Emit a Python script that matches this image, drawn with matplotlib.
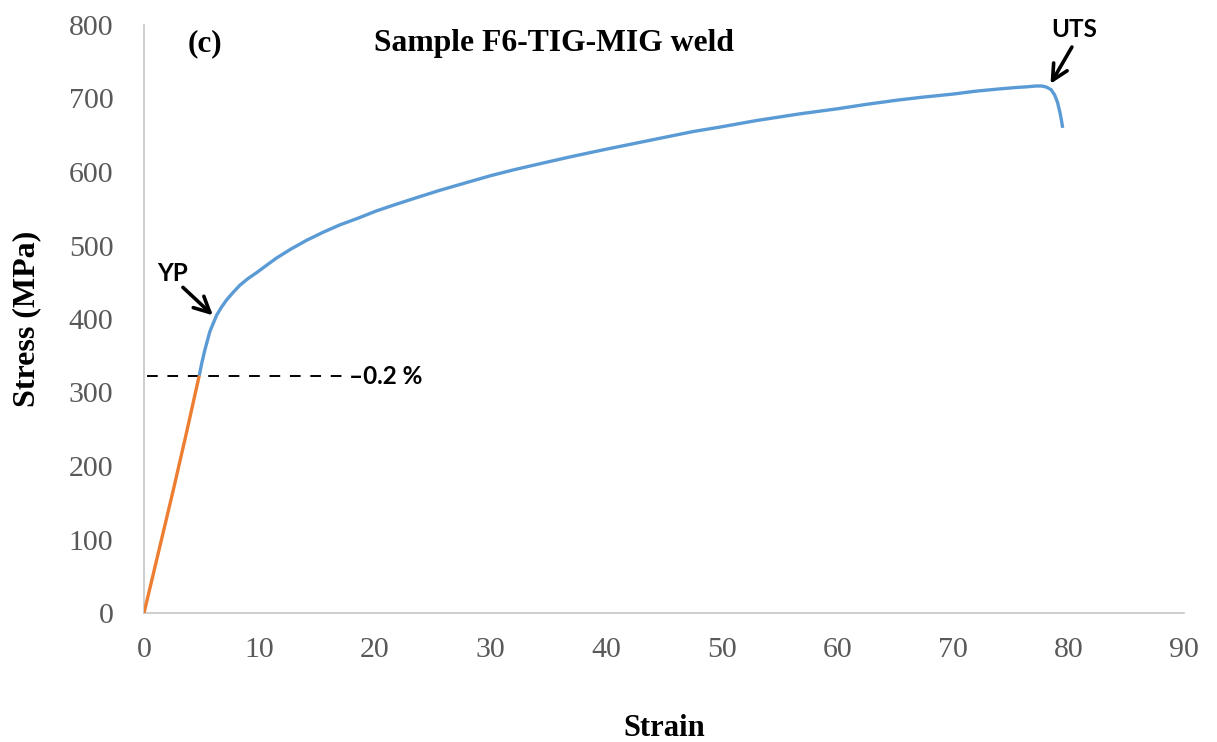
import numpy as np
import matplotlib.pyplot as plt

# Stress-strain curve of the F6 TIG-MIG weld sample
elastic_strain = [0.0, 1.0, 2.53, 3.6, 4.78]
elastic_stress = [0, 66, 167, 240, 323]

plastic_strain = [4.78, 5.0, 5.27, 5.7, 6.28, 6.7, 7.15, 7.7, 8.3, 9.0, 9.74,
                  10.6, 11.47, 12.7, 14.06, 15.5, 16.94, 18.5, 20.1, 21.8, 23.57,
                  25.58, 28.0, 30.0, 32.0, 34.2, 37.0, 40.0, 42.5, 45.0, 47.5,
                  49.8, 53.0, 56.7, 60.0, 62.5, 65.3, 67.5, 70.0, 72.0, 74.0,
                  75.5, 76.5, 77.2, 77.7, 78.1, 78.5, 78.8, 79.05, 79.25, 79.4, 79.5]
plastic_stress = [323, 340, 358, 383, 405, 416, 426, 436, 446, 455, 463,
                  473, 483, 495, 507, 518, 528, 537, 547, 556, 565,
                  575, 586, 595, 603, 611, 621, 631, 639, 647, 655,
                  661, 670, 679, 686, 692, 698, 702, 706, 710, 713,
                  715, 716, 717, 717, 715.5, 712, 705, 695, 682, 670, 660]

offset_stress = 322          # 0.2 % offset yield line
yp_point = (5.96, 405)
uts_point = (78.45, 720)

x_ticks = np.arange(0, 91, 10)
y_ticks = np.arange(0, 801, 100)

serif = "Liberation Serif"
sans = "Lato"

fig = plt.figure(figsize=(12.17, 7.42), dpi=100)
ax = fig.add_axes([144 / 1217, 1 - 613 / 742, (1184 - 144) / 1217, (613 - 25) / 742])

ax.plot(plastic_strain, plastic_stress, color="#5b9bd5", lw=2.4,
        solid_capstyle="butt", solid_joinstyle="round", zorder=3)
ax.plot(elastic_strain, elastic_stress, color="#ed7d31", lw=2.4,
        solid_capstyle="butt", solid_joinstyle="round", zorder=4)

# offset line and label
ax.plot([0.25, 17.5], [offset_stress, offset_stress], color="black", lw=1.4,
        dashes=(5.5, 5), zorder=2)
ax.text(17.75, offset_stress, "–0.2 %", fontfamily=sans, fontweight="bold",
        fontsize=17.5, va="center", ha="left")

# YP / UTS markers
arrow = dict(arrowstyle="->", lw=2.6, color="black", mutation_scale=28,
             shrinkA=0, shrinkB=0)
ax.annotate("", xy=yp_point, xytext=(3.37, 443), arrowprops=arrow)
ax.text(2.5, 462, "YP", fontfamily=sans, fontweight="bold", fontsize=17.5,
        ha="center", va="center")
ax.annotate("", xy=uts_point, xytext=(80.3, 770), arrowprops=arrow)
ax.text(80.5, 794, "UTS", fontfamily=sans, fontweight="bold", fontsize=17.5,
        ha="center", va="center")

ax.text(5.3, 775, "(c)", fontfamily=serif, fontweight="bold", fontsize=22.5,
        ha="center", va="center")
ax.text(35.5, 775, "Sample F6-TIG-MIG weld", fontfamily=serif, fontweight="bold",
        fontsize=22.8, ha="center", va="center")

ax.set_xlim(0, 90)
ax.set_ylim(0, 800)
ax.set_xticks(x_ticks)
ax.set_yticks(y_ticks)
ax.tick_params(length=0, labelsize=21.5, labelcolor="#595959")
ax.tick_params(axis="x", pad=17)
ax.tick_params(axis="y", pad=22)
for lab in ax.get_xticklabels() + ax.get_yticklabels():
    lab.set_fontfamily(serif)

for side in ["top", "right"]:
    ax.spines[side].set_visible(False)
for side in ["left", "bottom"]:
    ax.spines[side].set_color("#c6c6c6")
    ax.spines[side].set_linewidth(1.2)

ax.set_xlabel("Strain", fontfamily=serif, fontweight="bold", fontsize=22, labelpad=37)
ax.set_ylabel("Stress (MPa)", fontfamily=serif, fontweight="bold", fontsize=23, labelpad=20)

fig.savefig("out.png", dpi=100)
